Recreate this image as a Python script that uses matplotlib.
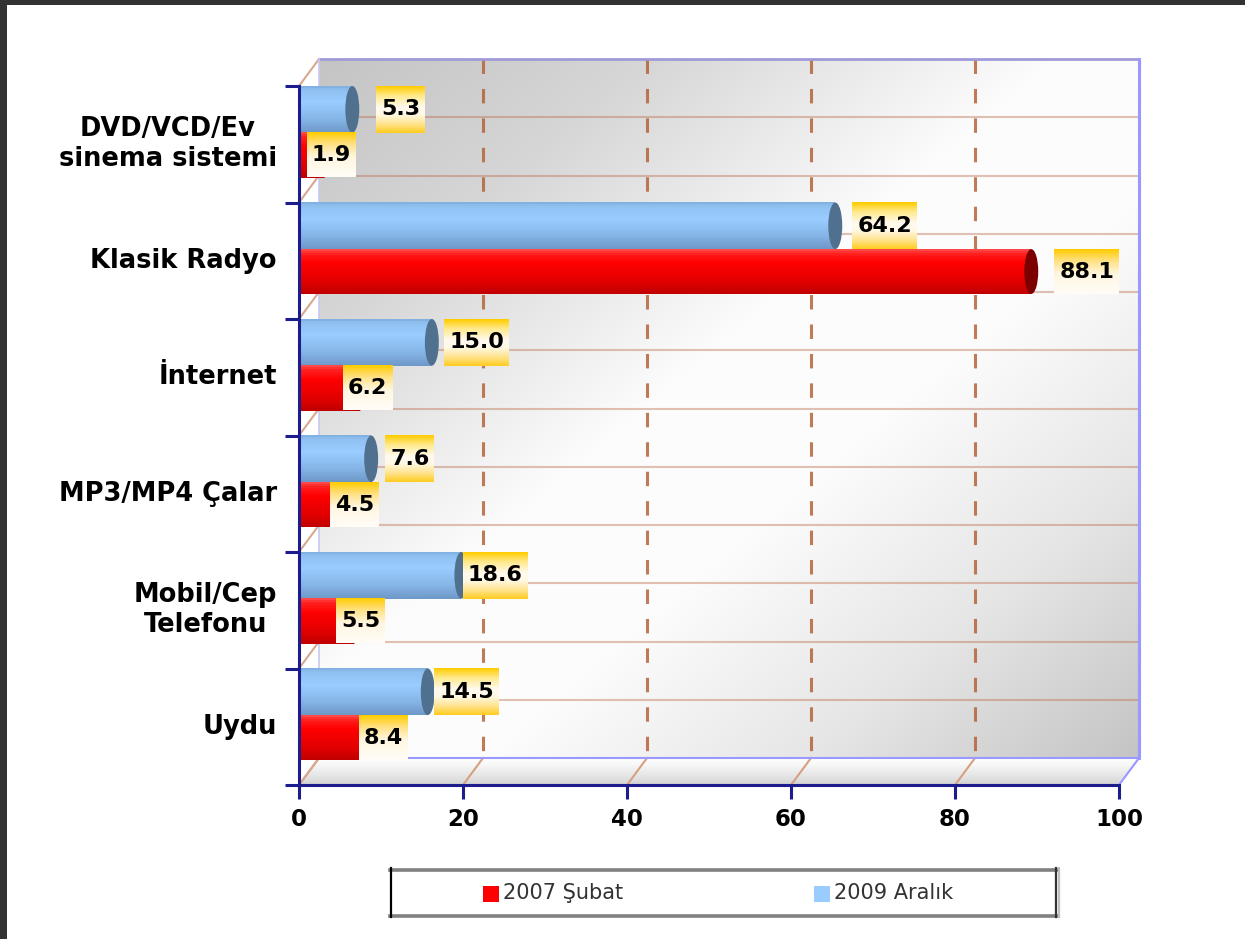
import numpy as np
import matplotlib
matplotlib.use('Agg')
import matplotlib.pyplot as plt
import matplotlib.transforms as mtransforms
from matplotlib.patches import Ellipse, Polygon, Rectangle
from matplotlib.colors import LinearSegmentedColormap, to_rgb

plt.rcParams['lines.scale_dashes'] = False

# ---------------- data ----------------
categories = ['Uydu', 'Mobil/Cep\nTelefonu', 'MP3/MP4 Çalar', 'İnternet',
              'Klasik Radyo', 'DVD/VCD/Ev\nsinema sistemi']
values_2007 = [8.4, 5.5, 4.5, 6.2, 88.1, 1.9]
values_2009 = [14.5, 18.6, 7.6, 15.0, 64.2, 5.3]
series_names = ['2007 Şubat', '2009 Aralık']
x_ticks = [0, 20, 40, 60, 80, 100]

# ---------------- layout (pixels) ----------------
label_dx_2007 = [-9, -8, -6, -7, 33, -8]
label_dx_2009 = [16, 11, 24, 22, 27, 34]

W, H, DPI = 1245, 939, 100
NAVY = '#1c1c8c'
fig = plt.figure(figsize=(W / DPI, H / DPI), dpi=DPI)
fig.patch.set_facecolor('white')
ax = fig.add_axes([299 / W, 1 - 785 / H, 820 / W, 699 / H])
ax.set_xlim(0, 100)
ax.set_ylim(0, 6)
ax.set_autoscale_on(False)
ax.patch.set_visible(False)

DX, DY = 20, 27
depth = mtransforms.ScaledTranslation(DX / DPI, DY / DPI, fig.dpi_scale_trans)
back = ax.transData + depth
ident = mtransforms.IdentityTransform()

# ---------------- back wall ----------------
nx, ny = 320, 280
gx, gy = np.meshgrid(np.linspace(0, 1, nx), np.linspace(0, 1, ny))
d = (gx + gy) / 2
lev = np.interp(d, [0, 0.2, 0.45, 0.6, 0.8, 1.0], [0.77, 0.84, 0.99, 0.99, 0.90, 0.77])
img = np.dstack([lev, lev, lev])
im = ax.imshow(img, extent=(0, 100, 0, 6), origin='upper', aspect='auto',
               interpolation='bilinear', transform=back, zorder=0)
im.set_clip_on(False)

# floor (gradient stripes)
fl = ax.transData.transform([(0, 0), (100, 0)])
n = 24
for i in range(n):
    t0, t1 = i / n, (i + 1) / n
    pts = [fl[0] + [DX * t0, DY * t0], fl[1] + [DX * t0, DY * t0],
           fl[1] + [DX * t1, DY * t1], fl[0] + [DX * t1, DY * t1]]
    c = 0.80 + 0.20 * ((t0 + t1) / 2) ** 0.7
    ax.add_patch(Polygon(pts, closed=True, transform=ident, facecolor=(c, c, c),
                         edgecolor=(c, c, c), lw=0.5, zorder=0.5, clip_on=False))

# wall grid
for k in np.arange(0.5, 6, 0.5):
    ax.plot([0, 100], [k, k], transform=back, color=(0.72, 0.43, 0.31), alpha=0.42,
            lw=1.5, zorder=1, clip_on=False)
for xv in x_ticks[1:]:
    ax.plot([xv, xv], [6, 0], transform=back, color='#b5633a', alpha=0.85, lw=2.2,
            dashes=(10.4, 10.8), zorder=1, clip_on=False)

# depth diagonals
for xv in x_ticks:
    p = ax.transData.transform((xv, 0))
    col = '#9999ff' if xv == 100 else '#d8a080'
    ax.plot([p[0], p[0] + DX], [p[1], p[1] + DY], transform=ident, color=col,
            lw=1.5, zorder=1.2, clip_on=False)
for k in range(7):
    p = ax.transData.transform((0, k))
    ax.plot([p[0], p[0] + DX], [p[1], p[1] + DY], transform=ident, color='#d8a890',
            lw=1.5, zorder=1.2, clip_on=False)

# wall border
ax.plot([0, 100], [6, 6], transform=back, color='#a09ad8', lw=2, zorder=1.5, clip_on=False)
ax.plot([100, 100], [0, 6], transform=back, color='#9999ff', lw=2.2, zorder=1.5, clip_on=False)
ax.plot([0, 100], [0, 0], transform=back, color='#9999ff', lw=1.5, zorder=1.5, clip_on=False)
ax.plot([0, 0], [0, 6], transform=back, color='#c8c8f4', lw=1.2, zorder=1.5, clip_on=False)

# ---------------- bars ----------------
blue_cmap = LinearSegmentedColormap.from_list(
    'b', [(0, '#7eaede'), (0.08, '#8fc0f0'), (0.35, '#99ccff'), (0.7, '#86b6e8'), (1, '#6d97c6')])
red_cmap = LinearSegmentedColormap.from_list(
    'r', [(0, '#ff5050'), (0.1, '#ff2020'), (0.3, '#ff0000'), (0.75, '#e00000'), (1, '#c00000')])


def cylinder(y0, h, val, cmap, cap_col):
    ns = 24
    end = val + 1.2
    for i in range(ns):
        yc = y0 + h - (i + 0.5) * h / ns
        ax.barh(yc, end, height=h / ns * 1.15, left=0, color=cmap((i + 0.5) / ns),
                linewidth=0, zorder=3)
    ax.add_patch(Ellipse((end, y0 + h / 2), width=1.7, height=h, facecolor=cap_col,
                         edgecolor='none', zorder=3.5))


def grad_col(stops, n=60):
    pos = [s[0] for s in stops]
    cols = np.array([to_rgb(s[1]) for s in stops])
    t = np.linspace(0, 1, n)
    arr = np.stack([np.interp(t, pos, cols[:, j]) for j in range(3)], axis=-1)
    return arr[:, None, :]


grad_blue = grad_col([(0, '#ffcc00'), (0.2, '#ffe98a'), (0.45, '#fffaf0'),
                      (0.6, '#fff8e6'), (0.82, '#ffe38a'), (1, '#ffcc22')])
grad_red = grad_col([(0, '#ffcc00'), (0.25, '#ffe080'), (0.55, '#fff6e0'), (1, '#fffdf8')])

ppu = (ax.transData.transform((100, 0))[0] - ax.transData.transform((0, 0))[0]) / 100


def label(val, y0, h, dx_px, grad):
    txt = f'{val:.1f}'
    wpx = 49 if len(txt) == 3 else 65
    x0 = val + dx_px / ppu
    x1 = x0 + wpx / ppu
    li = ax.imshow(grad, extent=(x0, x1, y0, y0 + h), origin='upper', aspect='auto',
                   interpolation='bilinear', zorder=5)
    li.set_clip_on(False)
    ax.text((x0 + x1) / 2, y0 + h / 2, txt, ha='center', va='center', fontsize=16,
            fontweight='bold', color='black', zorder=6, clip_on=False)


RED_LO, MID, BLUE_HI = 0.215, 0.60, 1.0
for k in range(len(categories)):
    cylinder(k + MID, BLUE_HI - MID, values_2009[k], blue_cmap, '#50708f')
    cylinder(k + RED_LO, MID - RED_LO, values_2007[k], red_cmap, '#7d0000')
for k in range(len(categories)):
    label(values_2009[k], k + MID, BLUE_HI - MID, label_dx_2009[k], grad_blue)
    label(values_2007[k], k + RED_LO, MID - RED_LO, label_dx_2007[k], grad_red)

# ---------------- axes ----------------
for s in ['top', 'right']:
    ax.spines[s].set_visible(False)
for s in ['left', 'bottom']:
    ax.spines[s].set_color(NAVY)
    ax.spines[s].set_linewidth(2.2)
    ax.spines[s].set_zorder(10)

ax.set_yticks(range(7))
ax.set_yticklabels([])
ax.tick_params(axis='y', which='major', direction='out', length=10, width=2.2, color=NAVY)
ax.set_xticks(x_ticks)
ax.set_xticklabels([str(v) for v in x_ticks])
ax.tick_params(axis='x', which='major', direction='out', length=10, width=2.2, color=NAVY,
               pad=6.5, labelsize=16.5, labelcolor='black')
for lbl in ax.get_xticklabels():
    lbl.set_fontweight('bold')
ax.yaxis.get_major_ticks()[-1].tick1line.set_color('#7f7fc0')
ax.xaxis.get_major_ticks()[-1].tick1line.set_color('#7f7fc0')

ylab_tr = ax.transData + mtransforms.ScaledTranslation(-22 / DPI, 0, fig.dpi_scale_trans)
for k, cat in enumerate(categories):
    ax.text(0, k + 0.5, cat, transform=ylab_tr, ha='right', va='center',
            multialignment='center', fontsize=18.5, fontweight='bold', color='black')

# ---------------- legend ----------------
lax = fig.add_axes([390 / W, 1 - 917 / H, 667 / W, 49 / H])
lax.set_xlim(0, 667)
lax.set_ylim(0, 49)
lax.axis('off')
lax.plot([0, 667], [47.5, 47.5], color='#808080', lw=2.6, clip_on=False)
lax.plot([0, 667], [1.5, 1.5], color='#808080', lw=2.6, clip_on=False)
lax.plot([1, 1], [0, 49], color='black', lw=1.6, clip_on=False)
lax.plot([665.5, 665.5], [0, 49], color='#333333', lw=1.6, clip_on=False)
lax.plot([668.5, 668.5], [0, 49], color='#c0c0c0', lw=1.6, clip_on=False)
leg_colors = ['#ff0000', '#99ccff']
leg_x = [93, 424]
for name, col, lx in zip(series_names, leg_colors, leg_x):
    lax.add_patch(Rectangle((lx, 15), 16, 16, facecolor=col, edgecolor='none'))
    lax.text(lx + 20, 24, name, ha='left', va='center', fontsize=15, color='#333333')

# ---------------- dark frame ----------------
fig.add_artist(Rectangle((0, 1 - 5 / H), 1, 5 / H, transform=fig.transFigure,
                         facecolor='#333333', edgecolor='none', zorder=20))
fig.add_artist(Rectangle((0, 0), 7 / W, 1, transform=fig.transFigure,
                         facecolor='#333333', edgecolor='none', zorder=20))

fig.savefig('out.png', dpi=DPI, facecolor='white')
